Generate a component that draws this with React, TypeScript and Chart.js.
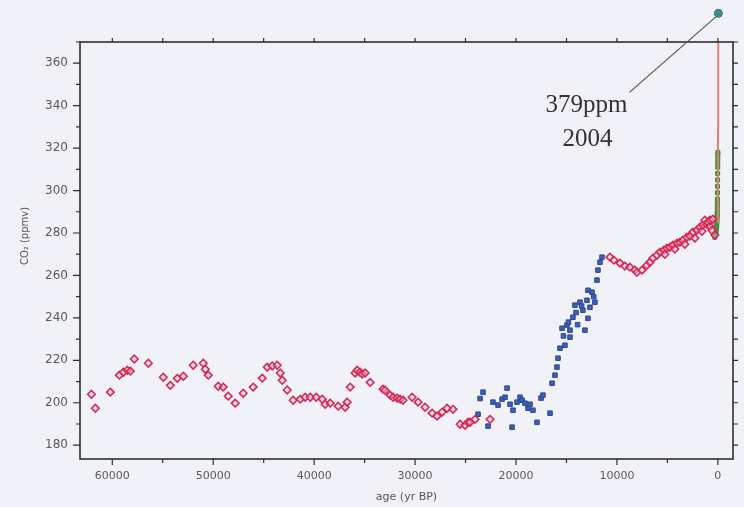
import React, { useEffect, useRef } from 'react';
import { Chart, registerables } from 'chart.js';

Chart.register(...registerables);

// ---- data ----
const glacialAge = [62070, 61680, 60190, 59300, 58900, 58510, 58210, 57820, 56430, 54950, 54250, 53560, 52960, 51980, 50990, 50790, 50490, 49500, 49010, 48510, 47820, 47030, 46040, 45140, 44650, 44150, 43660, 43360, 43160, 42670, 42080, 41380, 40890, 40390, 39800, 39200, 38910, 38410, 37620, 36930, 36730, 36430, 35940, 35740, 35440, 35240, 34950, 34450, 33170, 32970, 32470, 32180, 31780, 31480, 31190, 30290, 29700, 29010, 28310, 27820, 27320, 26830, 26240, 25540, 25050, 24750, 24550, 24060, 22570];
const glacialCO2 = [204.0, 197.4, 205.0, 213.0, 214.4, 215.3, 214.9, 220.6, 218.6, 212.0, 208.2, 211.5, 212.5, 217.7, 218.6, 215.8, 213.0, 207.8, 207.4, 203.1, 199.8, 204.5, 207.4, 211.6, 216.8, 217.3, 217.7, 214.0, 210.6, 206.0, 201.2, 201.7, 202.6, 202.6, 202.6, 201.7, 199.3, 199.8, 198.4, 197.9, 200.3, 207.4, 214.0, 215.3, 214.4, 213.5, 214.0, 209.6, 206.4, 205.9, 203.6, 202.6, 202.2, 201.7, 201.2, 202.6, 200.3, 197.9, 195.1, 193.7, 195.6, 197.4, 196.9, 189.9, 189.4, 190.8, 190.8, 192.2, 192.2];

const deglacialAge = [23760, 23560, 23270, 22770, 22280, 21780, 21380, 21090, 20890, 20590, 20390, 20300, 19900, 19600, 19400, 19110, 18810, 18610, 18320, 17920, 17520, 17330, 16630, 16430, 16140, 15940, 15840, 15640, 15150, 15440, 14950, 14650, 14650, 14360, 14160, 13660, 13370, 13170, 12870, 12670, 12470, 12870, 12180, 11980, 11880, 11680, 11480, 15300, 14800, 14050, 13900, 13500, 12970, 12300];
const deglacialCO2 = [194.6, 202.0, 205.0, 189.0, 200.3, 198.9, 201.7, 202.6, 206.9, 199.3, 188.5, 196.5, 200.3, 202.6, 201.2, 199.8, 197.4, 199.3, 196.5, 190.8, 202.2, 203.6, 195.1, 209.2, 213.0, 216.8, 221.0, 225.7, 227.1, 235.1, 236.6, 234.2, 230.9, 240.3, 246.0, 247.4, 243.6, 234.2, 239.8, 245.0, 252.1, 253.0, 247.4, 257.8, 262.5, 266.2, 268.6, 231.5, 238.0, 242.5, 236.8, 245.6, 248.3, 250.0];

const holoceneAge = [10690, 10300, 9700, 9210, 8710, 8220, 8020, 7520, 7030, 6730, 6440, 6040, 5740, 5350, 5250, 5050, 4750, 4460, 4260, 4060, 3760, 3470, 3270, 3070, 2770, 2480, 2280, 2080, 1780, 1580, 1490, 1290, 1090, 990, 790, 790, 590, 500, 300];
const holoceneCO2 = [268.6, 267.2, 265.8, 264.4, 263.9, 262.5, 261.5, 262.5, 264.8, 266.2, 268.1, 269.5, 271.0, 271.9, 270.0, 272.8, 273.3, 274.3, 272.4, 275.2, 275.7, 276.6, 274.7, 278.0, 278.5, 280.4, 277.6, 281.3, 282.7, 280.8, 283.7, 286.0, 284.1, 285.1, 283.2, 286.0, 281.3, 286.5, 279.0];

const firnAge = [300, 250, 200, 170, 150, 130, 115, 100, 90, 80, 72, 65, 58, 52, 46, 40, 35, 30, 25, 20, 15, 10, 6, 2, -2];
const firnCO2 = [278, 279, 280, 281, 282, 283, 284, 285, 286, 287, 288, 289, 290, 292, 294, 296, 299, 302, 305, 308, 311, 313, 315, 317, 318];

const instrumentAge = [0, -5, -10, -20, -30, -40, -46];
const instrumentCO2 = [285, 316, 322, 330, 340, 354, 370];

const latestAge = [-54];
const latestCO2 = [383.5];

const xTickValues = [60000, 50000, 40000, 30000, 20000, 10000, 0];
const yTickValues = [180, 200, 220, 240, 260, 280, 300, 320, 340, 360];
const annotationText = ['379ppm', '2004'];

const pts = (a: number[], b: number[]) => a.map((x, i) => ({ x, y: b[i] }));

const AXIS = '#2e2e2e';

const framePlugin = {
  id: 'frameTicks',
  afterDraw(chart: any) {
    const { ctx, chartArea } = chart;
    const { left, right, top, bottom } = chartArea;
    const xs = chart.scales.x;
    const ys = chart.scales.y;
    ctx.save();
    ctx.strokeStyle = AXIS;
    ctx.lineWidth = 1.6;
    ctx.strokeRect(left, top, right - left, bottom - top);
    ctx.lineWidth = 1.2;
    ctx.beginPath();
    for (let v = 0; v <= 60000; v += 5000) {
      const px = xs.getPixelForValue(v);
      const major = xTickValues.includes(v);
      ctx.moveTo(px, bottom);
      ctx.lineTo(px, bottom + (major ? 6 : 4));
      ctx.moveTo(px, top);
      ctx.lineTo(px, top - 4);
    }
    for (let v = 180; v <= 370; v += 10) {
      const py = ys.getPixelForValue(v);
      const major = yTickValues.includes(v);
      ctx.moveTo(left, py);
      ctx.lineTo(left - (major ? 7 : 4), py);
      ctx.moveTo(right, py);
      ctx.lineTo(right + 5, py);
    }
    ctx.stroke();

    // y title
    ctx.fillStyle = '#555';
    ctx.translate(25, 236);
    ctx.rotate(-Math.PI / 2);
    ctx.textAlign = 'center';
    ctx.textBaseline = 'middle';
    ctx.font = '10px "DejaVu Sans"';
    ctx.fillText('CO\u2082 (ppmv)', 0, 0);
    ctx.restore();

    // latest measurement (outside the plot frame) and its annotation
    const dx = xs.getPixelForValue(latestAge[0]);
    const dy = ys.getPixelForValue(latestCO2[0]);
    const ex = dx - 89;
    const ey = dy + 79;
    ctx.save();
    ctx.strokeStyle = '#555';
    ctx.lineWidth = 1.2;
    ctx.beginPath();
    ctx.moveTo(dx - 2, dy + 3);
    ctx.lineTo(ex, ey);
    ctx.stroke();
    ctx.fillStyle = '#3a8f88';
    ctx.strokeStyle = '#2f7a74';
    ctx.lineWidth = 1;
    ctx.beginPath();
    ctx.arc(dx, dy, 4, 0, Math.PI * 2);
    ctx.fill();
    ctx.stroke();
    ctx.fillStyle = '#333';
    ctx.font = '25px "Liberation Serif"';
    ctx.textAlign = 'center';
    ctx.textBaseline = 'alphabetic';
    ctx.fillText(annotationText[0], ex - 43, ey + 20);
    ctx.fillText(annotationText[1], ex - 42, ey + 54);
    ctx.restore();
  },
};

export default function App() {
  const ref = useRef<HTMLCanvasElement>(null);
  useEffect(() => {
    if (!ref.current) return;
    const diamond = {
      pointStyle: 'rectRot',
      pointRadius: 3.8,
      borderColor: '#d42a58',
      backgroundColor: 'rgba(245,190,205,0.45)',
      borderWidth: 1.6,
    };
    const chart = new Chart(ref.current, {
      type: 'scatter',
      data: {
        datasets: [
          { data: pts(glacialAge, glacialCO2), ...diamond } as any,
          {
            data: pts(deglacialAge, deglacialCO2),
            pointStyle: 'rect',
            pointRadius: 3.2,
            backgroundColor: '#3f5fb4',
            borderColor: '#2c4796',
            borderWidth: 1,
          },
          { data: pts(holoceneAge, holoceneCO2), ...diamond } as any,
          {
            type: 'line',
            data: pts(instrumentAge, instrumentCO2),
            showLine: true,
            pointRadius: 0,
            borderColor: '#e2806a',
            borderWidth: 2,
          } as any,
          {
            data: pts(firnAge, firnCO2),
            pointStyle: 'rect',
            pointRadius: 2.8,
            backgroundColor: '#4c9b48',
            borderColor: '#3b8a3a',
            borderWidth: 1,
          },
        ],
      },
      options: {
        animation: false,
        responsive: false,
        layout: { padding: { top: 42, right: 11, left: 0, bottom: 0 } },
        plugins: { legend: { display: false }, tooltip: { enabled: false } },
        scales: {
          x: {
            type: 'linear',
            reverse: true,
            min: -1500,
            max: 63200,
            afterBuildTicks: (s: any) => {
              s.ticks = xTickValues.map((v) => ({ value: v }));
            },
            afterFit: (s: any) => {
              s.height = 48;
            },
            grid: { display: false, drawTicks: false },
            border: { display: false },
            ticks: {
              font: { family: 'DejaVu Sans', size: 11 },
              color: '#5a5a5a',
              padding: 11,
              maxRotation: 0,
              autoSkip: false,
              callback: (v: any) => String(v),
            },
            title: {
              display: true,
              text: 'age (yr BP)',
              font: { family: 'DejaVu Sans', size: 11 },
              color: '#555',
              padding: { top: 0, bottom: 3 },
            },
          },
          y: {
            type: 'linear',
            min: 173.5,
            max: 370,
            afterBuildTicks: (s: any) => {
              s.ticks = yTickValues.map((v) => ({ value: v }));
            },
            afterFit: (s: any) => {
              s.width = 80;
            },
            grid: { display: false, drawTicks: false },
            border: { display: false },
            ticks: {
              font: { family: 'DejaVu Sans', size: 12 },
              color: '#5a5a5a',
              padding: 12,
              autoSkip: false,
              callback: (v: any) => String(v),
            },
          },
        },
      },
      plugins: [framePlugin],
    });
    return () => chart.destroy();
  }, []);
  return (
    <div style={{ position: 'fixed', left: 0, top: 0, width: 744, height: 507, background: '#f1f2f7' }}>
      <canvas ref={ref} width={744} height={507} />
    </div>
  );
}
